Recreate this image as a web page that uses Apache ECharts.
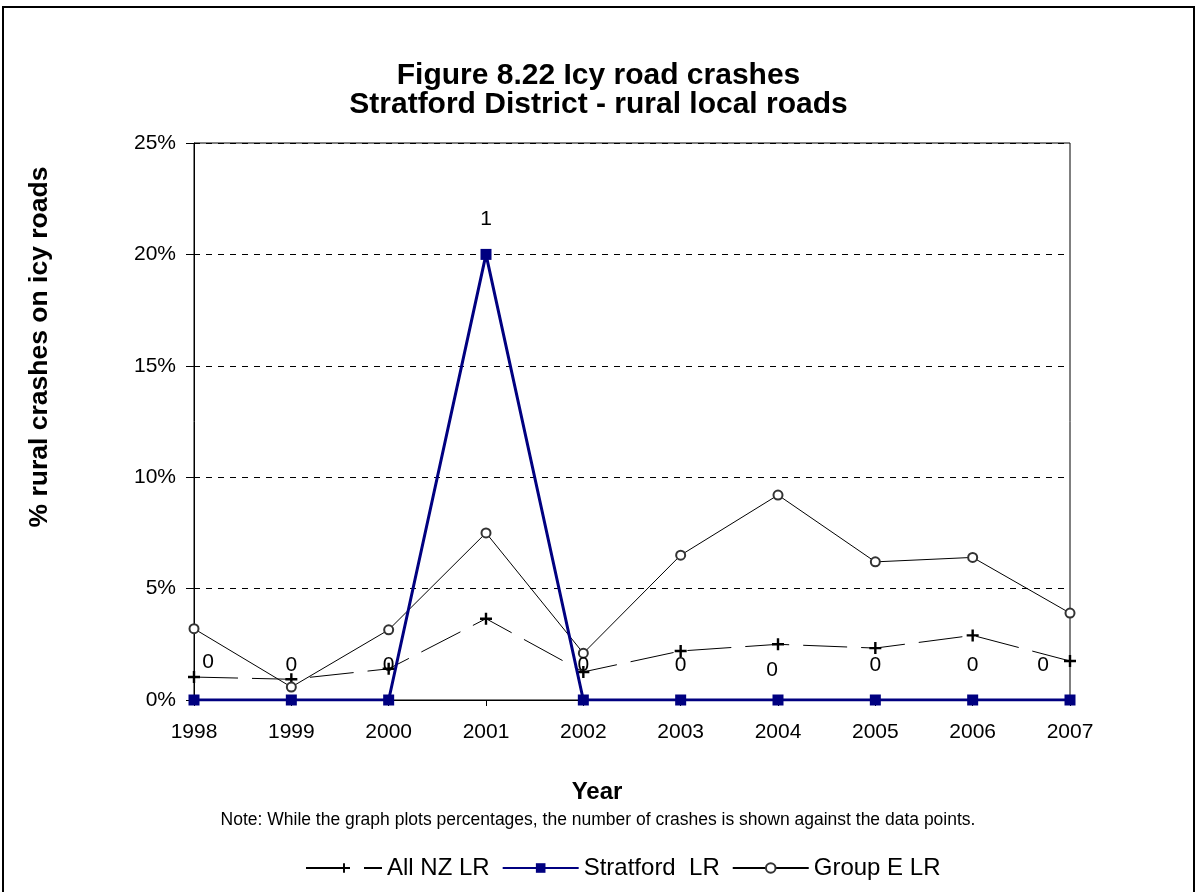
<!DOCTYPE html>
<html>
<head>
<meta charset="utf-8">
<title>Icy road crashes - Stratford District</title>
<script src="https://cdn.jsdelivr.net/npm/echarts@6/dist/echarts.min.js"></script>
<style>
  html, body { margin: 0; padding: 0; background: #fff; }
  #chart { width: 1197px; height: 892px; }
</style>
</head>
<body>
<div id="chart"></div>
<script>
// Years on the category axis
const years = ['1998', '1999', '2000', '2001', '2002', '2003', '2004', '2005', '2006', '2007'];

// Percentage of rural crashes on icy roads (values in %)
const allNzLR     = [1.03, 0.93, 1.40, 3.65, 1.26, 2.20, 2.50, 2.33, 2.90, 1.75];
const stratfordLR = [0, 0, 0, 20, 0, 0, 0, 0, 0, 0];
const groupELR    = [3.20, 0.58, 3.15, 7.50, 2.10, 6.50, 9.20, 6.20, 6.40, 3.90];

// Number of Stratford crashes shown against each point
const stratfordCounts = [0, 0, 0, 1, 0, 0, 0, 0, 0, 0];

// Value axis ticks (%)
const yTicks = [0, 5, 10, 15, 20, 25];

const FONT = "'Liberation Sans', Arial, sans-serif";

// Count labels sit above each square; a few are nudged sideways near the edges
const countLabelShift = { 0: [14, -38], 6: [-6, -30], 9: [-27, -35] };

const stratfordData = stratfordLR.map((v, i) => ({
  value: v,
  label: { offset: countLabelShift[i] || [0, -35] }
}));

// Filled "+" marker
const plusPath = 'path://M0,4 L4,4 L4,0 L6,0 L6,4 L10,4 L10,6 L6,6 L6,10 L4,10 L4,6 L0,6 Z';

const chart = echarts.init(document.getElementById('chart'), null, { renderer: 'canvas' });

chart.setOption({
  animation: false,
  backgroundColor: '#ffffff',
  textStyle: { fontFamily: FONT },
  title: {
    text: 'Figure 8.22 Icy road crashes\nStratford District - rural local roads',
    left: 'center',
    top: 56,
    textStyle: { fontFamily: FONT, fontSize: 30, fontWeight: 'bold', color: '#000', lineHeight: 29 }
  },
  grid: {
    left: 194, right: 127, top: 143, bottom: 192,
    show: true, borderColor: '#000', borderWidth: 1, backgroundColor: 'transparent'
  },
  legend: {
    left: 300,
    top: 851,
    itemWidth: 76,
    itemHeight: 12,
    itemGap: 12,
    textStyle: { fontFamily: FONT, fontSize: 24, color: '#000' },
    data: ['All NZ LR', 'Stratford  LR', 'Group E LR']
  },
  xAxis: {
    type: 'category',
    data: years,
    boundaryGap: false,
    axisLine: { lineStyle: { color: '#000', width: 1 } },
    axisTick: { show: true, length: 6, lineStyle: { color: '#000' } },
    axisLabel: { fontFamily: FONT, fontSize: 21, color: '#000', margin: 22 },
    splitLine: { show: false }
  },
  yAxis: {
    type: 'value',
    min: yTicks[0],
    max: yTicks[yTicks.length - 1],
    interval: yTicks[1] - yTicks[0],
    axisLine: { show: true, lineStyle: { color: '#000', width: 1 } },
    axisTick: { show: true, length: 8, lineStyle: { color: '#000' } },
    axisLabel: { fontFamily: FONT, fontSize: 21, color: '#000', margin: 18, formatter: '{value}%' },
    splitLine: { show: true, lineStyle: { color: '#000', width: 1, type: [6, 6] } }
  },
  series: [
    {
      name: 'All NZ LR',
      type: 'line',
      data: allNzLR,
      z: 2,
      symbol: plusPath,
      symbolSize: 12,
      itemStyle: { color: '#000' },
      lineStyle: { color: '#000', width: 1, type: [44, 14] }
    },
    {
      name: 'Stratford  LR',
      type: 'line',
      data: stratfordData,
      z: 4,
      symbol: 'rect',
      symbolSize: 11,
      itemStyle: { color: '#000080' },
      lineStyle: { color: '#000080', width: 3 },
      label: {
        show: true,
        position: 'inside',
        formatter: p => String(stratfordCounts[p.dataIndex]),
        fontFamily: FONT,
        fontSize: 21,
        color: '#000'
      }
    },
    {
      name: 'Group E LR',
      type: 'line',
      data: groupELR,
      z: 3,
      symbol: 'emptyCircle',
      symbolSize: 9,
      itemStyle: { color: '#333', borderWidth: 2 },
      lineStyle: { color: '#000', width: 1 }
    }
  ],
  graphic: [
    {
      type: 'rect',
      shape: { x: 3, y: 7, width: 1191, height: 895 },
      style: { fill: 'none', stroke: '#000', lineWidth: 2 },
      silent: true,
      z: 100
    },
    {
      // Value axis title
      type: 'text',
      x: 40,
      y: 347,
      rotation: Math.PI / 2,
      style: {
        text: '% rural crashes on icy roads',
        fontFamily: FONT,
        fontSize: 26.5,
        fontWeight: 'bold',
        fill: '#000',
        align: 'center',
        verticalAlign: 'middle'
      }
    },
    {
      // Category axis title
      type: 'text',
      x: 597,
      y: 792,
      style: {
        text: 'Year',
        fontFamily: FONT,
        fontSize: 24,
        fontWeight: 'bold',
        fill: '#000',
        align: 'center',
        verticalAlign: 'middle'
      }
    },
    {
      type: 'text',
      x: 598,
      y: 820,
      style: {
        text: 'Note: While the graph plots percentages, the number of crashes is shown against the data points.',
        fontFamily: FONT,
        fontSize: 17.5,
        fill: '#000',
        align: 'center',
        verticalAlign: 'middle'
      }
    }
  ]
});
</script>
</body>
</html>
